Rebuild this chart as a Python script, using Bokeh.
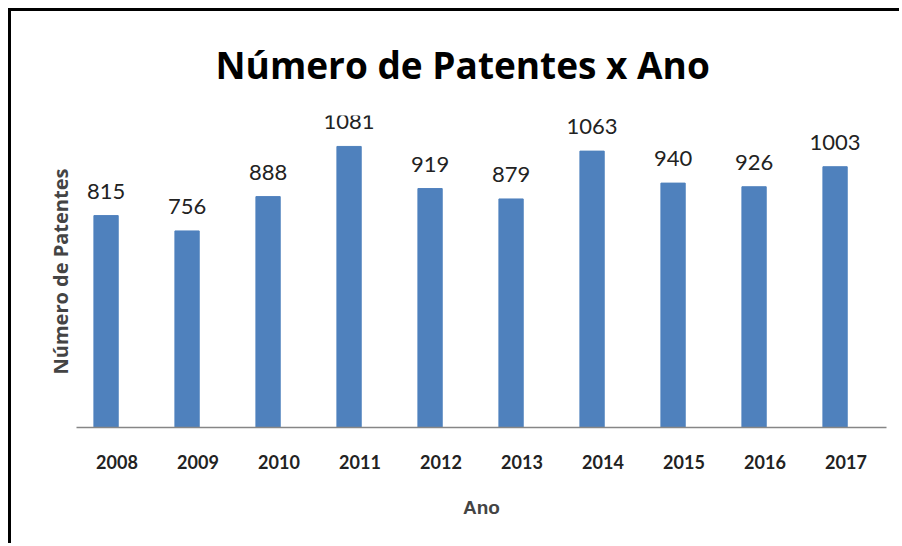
from bokeh.plotting import figure
from bokeh.models import ColumnDataSource, LabelSet, Range1d, FactorRange, FixedTicker
from bokeh.core.properties import value
from bokeh.transform import dodge
from bokeh.embed import file_html
from bokeh.resources import INLINE

title_text = "Número de Patentes x Ano"
years = ["2008", "2009", "2010", "2011", "2012", "2013", "2014", "2015", "2016", "2017"]
patents = [815, 756, 888, 1081, 919, 879, 1063, 940, 926, 1003]

src = ColumnDataSource(dict(year=years, n=patents, lbl=[str(v) for v in patents]))

p = figure(width=891, height=535, output_backend="svg", toolbar_location=None,
           x_range=FactorRange(*years, range_padding=0), y_range=Range1d(0, 1200),
           min_border_left=65, min_border_right=16, min_border_top=104, min_border_bottom=119)
p.styles = {"margin-left": "8px", "margin-top": "8px",
            "border-left": "3px solid black", "border-top": "3px solid black"}

shift = -0.135
p.vbar(x=dodge("year", shift, range=p.x_range), top="n", width=0.3, source=src, color="#4F81BD")

labels = LabelSet(x=dodge("year", shift, range=p.x_range), y="n", text="lbl", source=src,
                  text_align="center", text_baseline="alphabetic", y_offset=17,
                  text_font=value("Lato"), text_font_size="22px", text_color="#222222")
p.add_layout(labels)

p.title.text = title_text
p.title.align = "left"
p.title.text_font = "Open Sans"
p.title.text_font_size = "37px"
p.title.text_font_style = "bold"
p.title.text_color = "black"
p.title.standoff = 51
p.title.offset = 139

p.outline_line_color = None
p.grid.grid_line_color = None
p.background_fill_color = "white"
p.border_fill_color = "white"

xa = p.xaxis[0]
xa.axis_line_color = "#868686"
xa.axis_line_width = 1.5
xa.major_tick_line_color = None
xa.minor_tick_line_color = None
xa.major_label_text_font = "Lato"
xa.major_label_text_font_style = "bold"
xa.major_label_text_font_size = "18px"
xa.major_label_text_color = "#222222"
xa.major_label_standoff = 21
xa.axis_label = "Ano"
xa.axis_label_text_font = "Liberation Sans"
xa.axis_label_text_font_style = "bold"
xa.axis_label_text_font_size = "19px"
xa.axis_label_standoff = 25

ya = p.yaxis[0]
ya.ticker = FixedTicker(ticks=[])
ya.axis_line_color = None
ya.major_tick_line_color = None
ya.minor_tick_line_color = None
ya.axis_label = "Número de Patentes"
ya.axis_label_text_font = "Open Sans"
ya.axis_label_text_font_style = "bold"
ya.axis_label_text_font_size = "20px"
ya.axis_label_standoff = 3

open("out.html", "w").write(file_html(p, INLINE))
